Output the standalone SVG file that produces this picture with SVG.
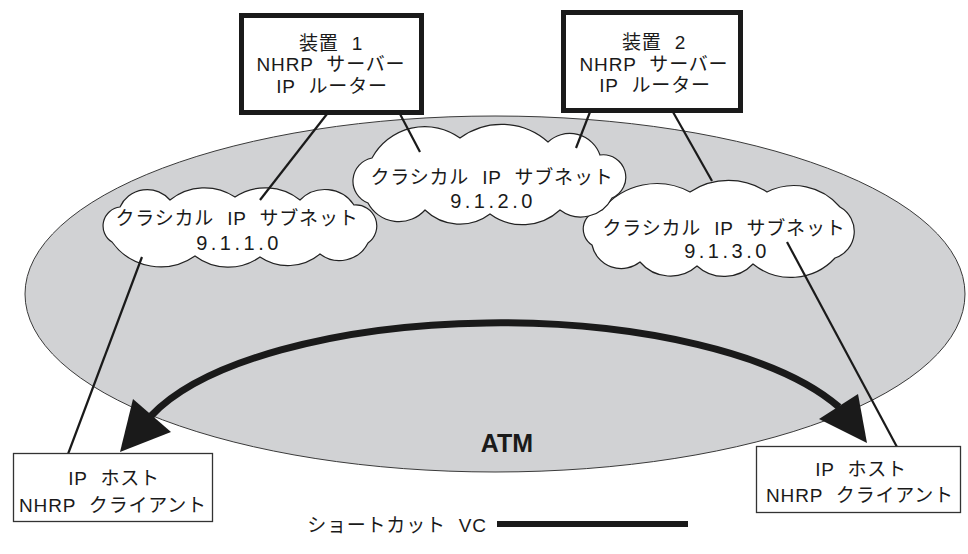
<svg xmlns="http://www.w3.org/2000/svg" width="968" height="554" viewBox="0 0 968 554">
<style>
  .t { font-family: 'Liberation Sans', 'Noto Sans CJK JP', sans-serif; font-size: 19px; fill: #1a1a1a; text-anchor: middle; letter-spacing: 0.8px; word-spacing: 7px; }
  .num { font-family: 'Liberation Sans', 'Noto Sans CJK JP', sans-serif; font-size: 20px; fill: #1a1a1a; text-anchor: middle; letter-spacing: 3.5px; }
  .cloud { fill: #ffffff; stroke: #222222; stroke-width: 1.2; }
  .dev { fill: #ffffff; stroke: #1a1a1a; stroke-width: 5; }
  .host { fill: #ffffff; stroke: #333333; stroke-width: 1.3; }
  .conn { stroke: #1a1a1a; stroke-width: 2.2; fill: none; }
  .vc { stroke: #1a1a1a; stroke-width: 7; fill: none; }
  .head { fill: #1a1a1a; }
</style>

<g id="atm">
  <ellipse cx="495" cy="294" rx="470" ry="178" fill="#d1d2d4" stroke="#3a3a3a" stroke-width="1"/>
  <text x="507" y="452" font-family="'Liberation Sans', Arial, sans-serif" font-weight="bold" font-size="25" fill="#1a1a1a" text-anchor="middle">ATM</text>
</g>

<g id="subnet3">
  <path class="cloud" d="M592,245 A19,19 0 0 1 602,210 A70,70 0 0 1 690,192 A70,70 0 0 1 767,192 A60,60 0 0 1 840,207 A28,28 0 0 1 835,258 A60,60 0 0 1 753,264 A40,40 0 0 1 697,266 A40,40 0 0 1 640,262 A30,30 0 0 1 592,245 Z"/>
  <text class="t" x="724" y="235">クラシカル IP サブネット</text>
  <text class="num" x="727" y="258">9.1.3.0</text>
</g>

<g id="subnet2">
  <path class="cloud" d="M368,203 A23.5,23.5 0 0 1 372,158 A60,60 0 0 1 460,138 A70,70 0 0 1 548,142 A32,32 0 0 1 600,155 A22.5,22.5 0 0 1 612,198 A35,35 0 0 1 560,210 A55,55 0 0 1 490,214 A50,50 0 0 1 425,210 A35,35 0 0 1 368,203 Z"/>
  <text class="t" x="492" y="184">クラシカル IP サブネット</text>
  <text class="num" x="493" y="208">9.1.2.0</text>
</g>

<g id="subnet1">
  <path class="cloud" d="M112,242 A19,19 0 0 1 120,207 A30,30 0 0 1 170,200 A55,55 0 0 1 235,197 A55,55 0 0 1 300,200 A35,35 0 0 1 354,205 A21,21 0 0 1 368,243 A32,32 0 0 1 320,254 A50,50 0 0 1 260,257 A55,55 0 0 1 195,256 A60,60 0 0 1 112,242 Z"/>
  <text class="t" x="237" y="225">クラシカル IP サブネット</text>
  <text class="num" x="239" y="250">9.1.1.0</text>
</g>

<g id="device1">
  <rect class="dev" x="241.5" y="15.5" width="180" height="97"/>
  <text class="t" x="331" y="49.5">装置 1</text>
  <text class="t" x="331" y="71">NHRP サーバー</text>
  <text class="t" x="332" y="92.5">IP ルーター</text>
</g>

<g id="device2">
  <rect class="dev" x="563.5" y="12.5" width="177" height="98"/>
  <text class="t" x="654" y="49">装置 2</text>
  <text class="t" x="654" y="70.5">NHRP サーバー</text>
  <text class="t" x="655" y="92">IP ルーター</text>
</g>

<g id="connectors">
  <line class="conn" x1="327" y1="114" x2="260" y2="200"/>
  <line class="conn" x1="400" y1="114" x2="420" y2="152"/>
  <line class="conn" x1="590" y1="112" x2="576" y2="148"/>
  <line class="conn" x1="673" y1="112" x2="712" y2="181"/>
  <line class="conn" x1="142" y1="257" x2="68" y2="454"/>
  <line class="conn" x1="787" y1="242" x2="897" y2="447"/>
  <path class="vc" d="M151,416 A370,140 0 0 1 839,407"/>
  <polygon class="head" points="120,452 133,399 171,432"/>
  <polygon class="head" points="867,443 819,419 858,394"/>
</g>

<g id="host1">
  <rect class="host" x="13.5" y="453.5" width="199" height="68"/>
  <text class="t" x="114" y="485">IP ホスト</text>
  <text class="t" x="113" y="512">NHRP クライアント</text>
</g>

<g id="host2">
  <rect class="host" x="756.5" y="446.5" width="204" height="66"/>
  <text class="t" x="861" y="476">IP ホスト</text>
  <text class="t" x="860" y="502">NHRP クライアント</text>
</g>

<g id="legend">
  <text class="t" x="397" y="532">ショートカット VC</text>
  <rect x="497" y="521" width="191" height="6" fill="#1a1a1a"/>
</g>
</svg>
